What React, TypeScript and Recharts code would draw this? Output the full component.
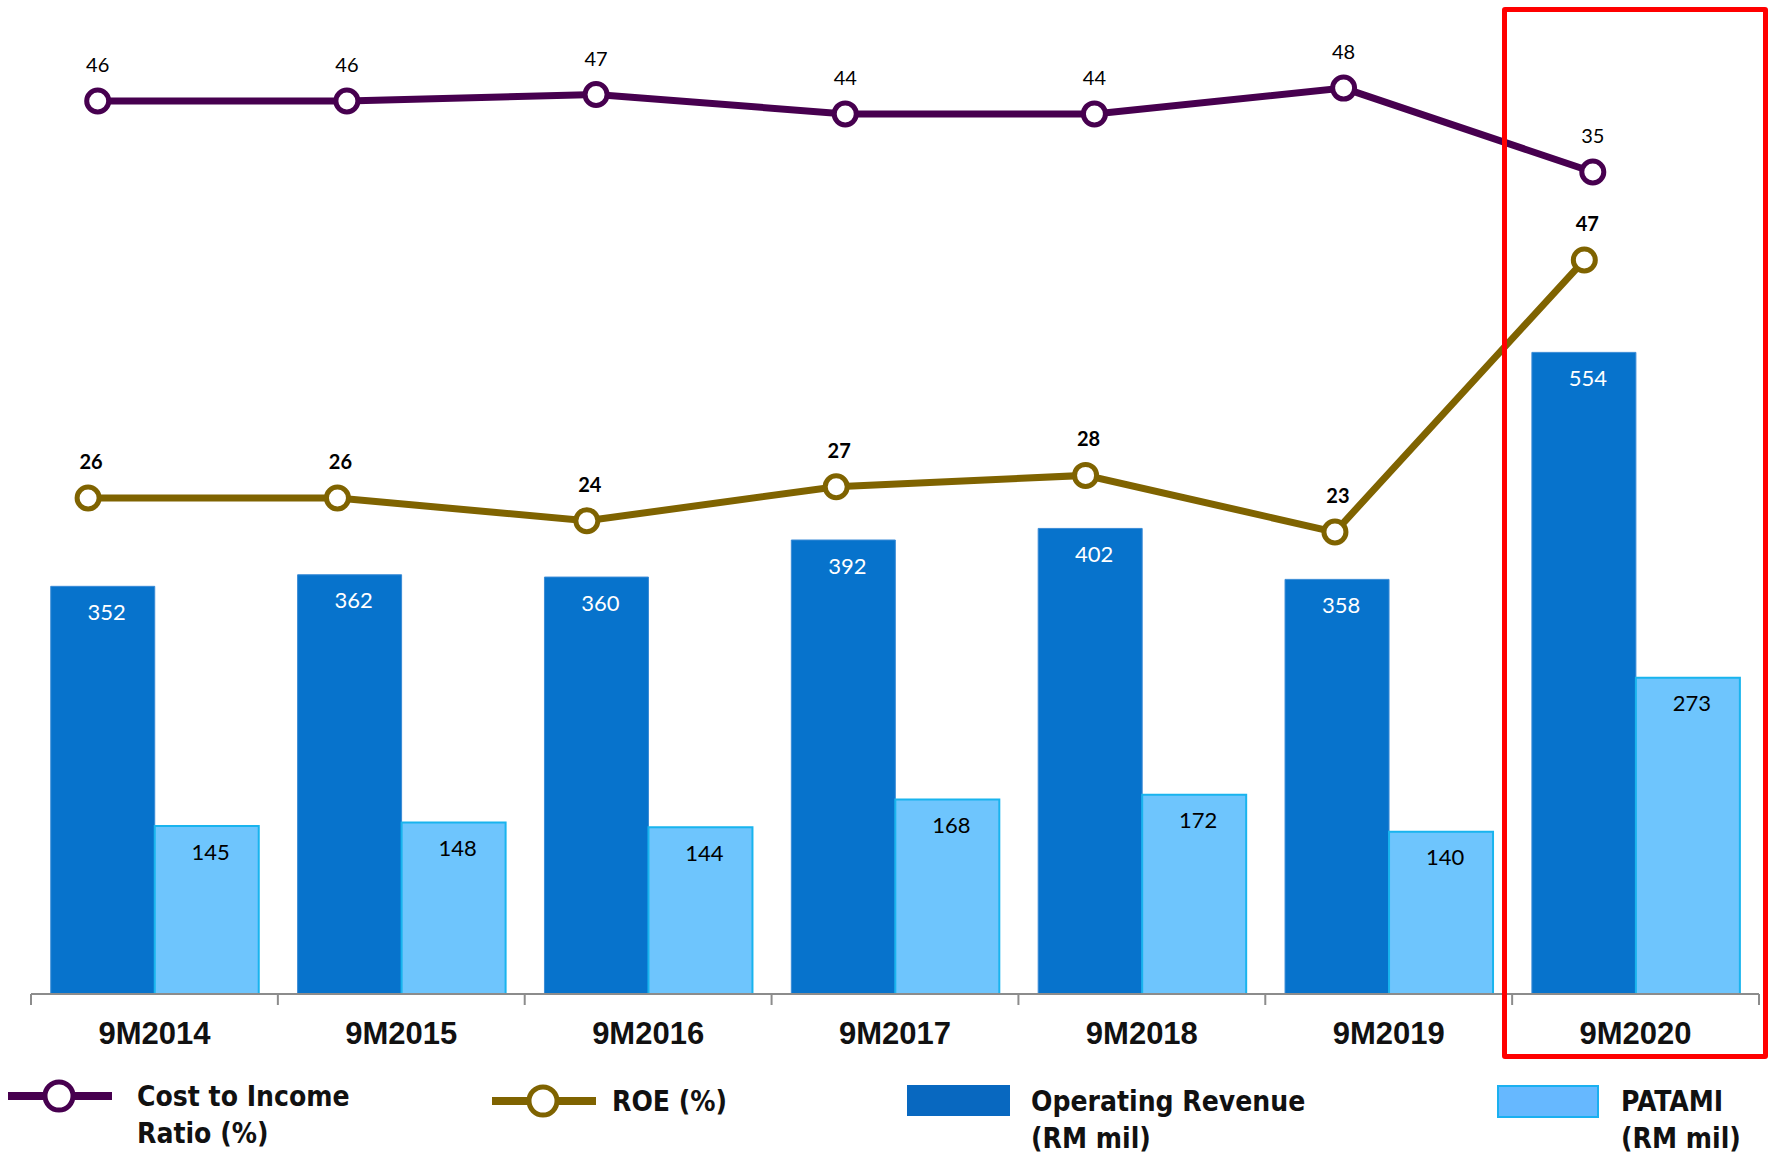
import React from 'react';
import { ComposedChart, Bar, Line, XAxis, YAxis, LabelList } from 'recharts';

const categories = ['9M2014', '9M2015', '9M2016', '9M2017', '9M2018', '9M2019', '9M2020'];
const operatingRevenue = [352, 362, 360, 392, 402, 358, 554];
const patami = [145, 148, 144, 168, 172, 140, 273];
const costToIncome = [46, 46, 47, 44, 44, 48, 35];
const roe = [26, 26, 24, 27, 28, 23, 47];
const boundaryTicks = [0, 1, 2, 3, 4, 5, 6, 7];

const data = categories.map((cat, i) => ({
  cat,
  idx: i,
  rev: operatingRevenue[i],
  pat: patami[i],
  cir: costToIncome[i],
  roe: roe[i],
}));

const CIR_COLOR = '#47004F';
const ROE_COLOR = '#7F6300';
const REV_COLOR = '#0773CC';
const PAT_COLOR = '#6EC5FD';
const PAT_BORDER = '#19B4EE';
const LABEL_FONT = "Lato, 'Open Sans', sans-serif";
const LEGEND_FONT = "'DejaVu Sans Condensed', 'DejaVu Sans', sans-serif";

const barLabel = (color: string) => (props: any) => {
  const { x, y, width, value } = props;
  return (
    <text
      x={Number(x) + Number(width) / 2 + 4}
      y={Number(y) + 25}
      fill={color}
      fontSize={22}
      fontFamily={LABEL_FONT}
      textAnchor="middle"
      dominantBaseline="central"
    >
      {value}
    </text>
  );
};

const lineLabel = (bold: boolean, dx: number) => (props: any) => {
  const { x, y, value } = props;
  return (
    <text
      x={Number(x) + dx}
      y={Number(y) - 37}
      fill="#000"
      fontSize={20}
      fontWeight={bold ? 700 : 400}
      fontFamily={LABEL_FONT}
      textAnchor="middle"
      dominantBaseline="central"
    >
      {value}
    </text>
  );
};

const CatTick = (props: any) => {
  const { x, y, payload } = props;
  return (
    <text
      x={x}
      y={Number(y) + 38}
      fill="#111"
      fontSize={31}
      fontWeight={700}
      fontFamily="'Liberation Sans', Arial, sans-serif"
      textAnchor="middle"
      dominantBaseline="central"
    >
      {payload.value}
    </text>
  );
};

const legendText: React.CSSProperties = {
  position: 'absolute',
  fontFamily: LEGEND_FONT,
  fontWeight: 700,
  fontSize: 28,
  color: '#111',
  lineHeight: '37px',
  whiteSpace: 'nowrap',
};

const LineIcon = ({ left, top, color }: { left: number; top: number; color: string }) => (
  <svg style={{ position: 'absolute', left, top: top - 20 }} width={104} height={40}>
    <line x1={0} y1={20} x2={104} y2={20} stroke={color} strokeWidth={8} />
    <circle cx={51} cy={20} r={14} fill="#fff" stroke={color} strokeWidth={5} />
  </svg>
);

export default function App() {
  return (
    <div style={{ position: 'absolute', left: 0, top: 0, width: 1771, height: 1154, background: '#fff' }}>
      <ComposedChart
        width={1771}
        height={1060}
        data={data}
        margin={{ top: 20, right: 12, bottom: 6, left: 31 }}
        barCategoryGap="8%"
        barGap={0}
      >
        <XAxis
          xAxisId="bound"
          type="number"
          dataKey="idx"
          domain={[0, 7]}
          ticks={boundaryTicks}
          tickFormatter={() => ''}
          height={1}
          tickSize={11}
          axisLine={{ stroke: '#8c8c8c', strokeWidth: 2 }}
          tickLine={{ stroke: '#8c8c8c', strokeWidth: 2 }}
          allowDataOverflow
        />
        <XAxis
          xAxisId="cat"
          dataKey="cat"
          height={59}
          axisLine={false}
          tickLine={false}
          tickSize={0}
          tickMargin={0}
          interval={0}
          tick={<CatTick />}
        />
        <XAxis xAxisId="cir" type="number" dataKey="idx" domain={[-0.2677, 6.667]} allowDataOverflow hide />
        <XAxis xAxisId="roe" type="number" dataKey="idx" domain={[-0.229, 6.7005]} allowDataOverflow hide />
        <YAxis yAxisId="bar" domain={[0, 841]} allowDataOverflow hide />
        <YAxis yAxisId="cir" domain={[-92.35, 58.55]} allowDataOverflow hide />
        <YAxis yAxisId="roe" domain={[-17.76, 68.18]} allowDataOverflow hide />

        <Bar xAxisId="cat" yAxisId="bar" dataKey="rev" fill={REV_COLOR} stroke="#3a8bd6" strokeWidth={1} isAnimationActive={false}>
          <LabelList dataKey="rev" content={barLabel('#ffffff')} />
        </Bar>
        <Bar xAxisId="cat" yAxisId="bar" dataKey="pat" fill={PAT_COLOR} stroke={PAT_BORDER} strokeWidth={2} isAnimationActive={false}>
          <LabelList dataKey="pat" content={barLabel('#000000')} />
        </Bar>

        <Line
          xAxisId="cir"
          yAxisId="cir"
          type="linear"
          dataKey="cir"
          stroke={CIR_COLOR}
          strokeWidth={7}
          dot={{ r: 11, fill: '#fff', stroke: CIR_COLOR, strokeWidth: 5 }}
          activeDot={false}
          isAnimationActive={false}
        >
          <LabelList dataKey="cir" content={lineLabel(false, 0)} />
        </Line>
        <Line
          xAxisId="roe"
          yAxisId="roe"
          type="linear"
          dataKey="roe"
          stroke={ROE_COLOR}
          strokeWidth={7}
          dot={{ r: 11, fill: '#fff', stroke: ROE_COLOR, strokeWidth: 5 }}
          activeDot={false}
          isAnimationActive={false}
        >
          <LabelList dataKey="roe" content={lineLabel(true, 3)} />
        </Line>
      </ComposedChart>

      <div
        style={{
          position: 'absolute',
          left: 1502,
          top: 7,
          width: 266,
          height: 1052,
          border: '5px solid #FF0000',
          borderRadius: 3,
          boxSizing: 'border-box',
          pointerEvents: 'none',
        }}
      />

      <LineIcon left={8} top={1096} color={CIR_COLOR} />
      <div style={{ ...legendText, left: 137, top: 1096 - 18 }}>
        Cost to Income
        <br />
        Ratio (%)
      </div>

      <LineIcon left={492} top={1101} color={ROE_COLOR} />
      <div style={{ ...legendText, left: 612, top: 1101 - 18 }}>ROE (%)</div>

      <div style={{ position: 'absolute', left: 907, top: 1085, width: 103, height: 31, background: '#0868C0' }} />
      <div style={{ ...legendText, left: 1031, top: 1101 - 18 }}>
        Operating Revenue
        <br />
        (RM mil)
      </div>

      <div
        style={{
          position: 'absolute',
          left: 1497,
          top: 1085,
          width: 102,
          height: 33,
          background: '#66B8FF',
          border: '2px solid #1AB0F0',
          boxSizing: 'border-box',
        }}
      />
      <div style={{ ...legendText, left: 1621, top: 1101 - 18 }}>
        PATAMI
        <br />
        (RM mil)
      </div>
    </div>
  );
}
